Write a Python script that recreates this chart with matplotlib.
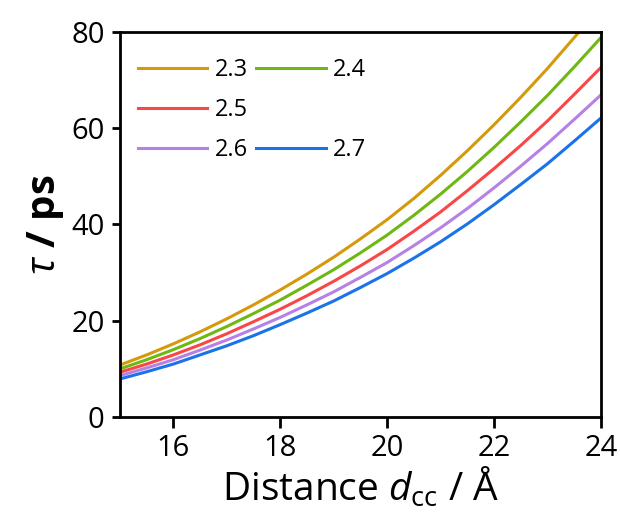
import matplotlib
matplotlib.use('Agg')
import matplotlib.pyplot as plt
from matplotlib.lines import Line2D

plt.rcParams['font.family'] = ['Open Sans', 'DejaVu Sans']
plt.rcParams['mathtext.fontset'] = 'custom'
plt.rcParams['mathtext.rm'] = 'Open Sans'
plt.rcParams['mathtext.it'] = 'Open Sans:italic'
plt.rcParams['mathtext.bf'] = 'Open Sans:bold'

# 数据（从图中读取，步长 0.5 Å）
distance = [15, 15.5, 16, 16.5, 17, 17.5, 18, 18.5, 19, 19.5,
            20, 20.5, 21, 21.5, 22, 22.5, 23, 23.5, 24]
labels = ['2.3', '2.4', '2.5', '2.6', '2.7']
tau_23 = [10.8, 12.9, 15.2, 17.7, 20.4, 23.3, 26.4, 29.7, 33.2, 37.0,
          41.0, 45.4, 50.2, 55.3, 60.7, 66.4, 72.4, 78.8, 85.4]
tau_24 = [10.0, 11.9, 14.0, 16.3, 18.8, 21.5, 24.3, 27.4, 30.6, 34.1,
          37.8, 41.9, 46.3, 51.0, 56.0, 61.3, 66.8, 72.7, 78.8]
tau_25 = [9.3, 11.0, 12.9, 15.0, 17.3, 19.8, 22.4, 25.2, 28.2, 31.4,
          34.8, 38.6, 42.6, 47.0, 51.6, 56.4, 61.5, 67.0, 72.6]
tau_26 = [8.6, 10.2, 11.9, 13.9, 16.0, 18.3, 20.7, 23.3, 26.0, 29.0,
          32.1, 35.6, 39.3, 43.3, 47.6, 52.1, 56.8, 61.8, 66.9]
tau_27 = [7.9, 9.4, 11.0, 12.9, 14.8, 16.9, 19.2, 21.6, 24.1, 26.9,
          29.8, 33.0, 36.4, 40.1, 44.1, 48.3, 52.6, 57.3, 62.1]
colors = ['#d49a0c', '#6fb814', '#f94646', '#b681e5', '#1a73e8']

fig = plt.figure(figsize=(6.2, 5.23), dpi=100)
ax = fig.add_axes([0.1935, 0.2027, 0.7755, 0.7361])

lines = []
for y, c, lab in zip([tau_23, tau_24, tau_25, tau_26, tau_27], colors, labels):
    ln, = ax.plot(distance, y, color=c, lw=2.2, label=lab)
    lines.append(ln)

ax.set_xlim(15, 24)
ax.set_ylim(0, 80)
ax.set_xticks([16, 18, 20, 22, 24])
ax.set_yticks([0, 20, 40, 60, 80])
ax.tick_params(direction='out', width=2, labelsize=21)
ax.tick_params(axis='x', length=8, pad=4)
ax.tick_params(axis='y', length=6, pad=5)
for s in ax.spines.values():
    s.set_linewidth(2)

ax.set_xlabel(r'Distance $d_{\mathrm{cc}}$ / Å', fontsize=28, labelpad=2)
ax.set_ylabel(r'$\tau$ / ps', fontsize=29, fontweight='bold', labelpad=4)

# 图例：第二行右侧留空
blank = Line2D([], [], color='none')
handles = [lines[0], lines[2], lines[3], lines[1], blank, lines[4]]
names = ['2.3', '2.5', '2.6', '2.4', '', '2.7']
ax.legend(handles, names, ncol=2, loc='upper left', frameon=False,
          fontsize=17, handlelength=2.95, handletextpad=0.3,
          columnspacing=0.35, labelspacing=0.67,
          borderpad=0, borderaxespad=0,
          bbox_to_anchor=(0.037, 0.932))

fig.savefig('out.png', dpi=100)
